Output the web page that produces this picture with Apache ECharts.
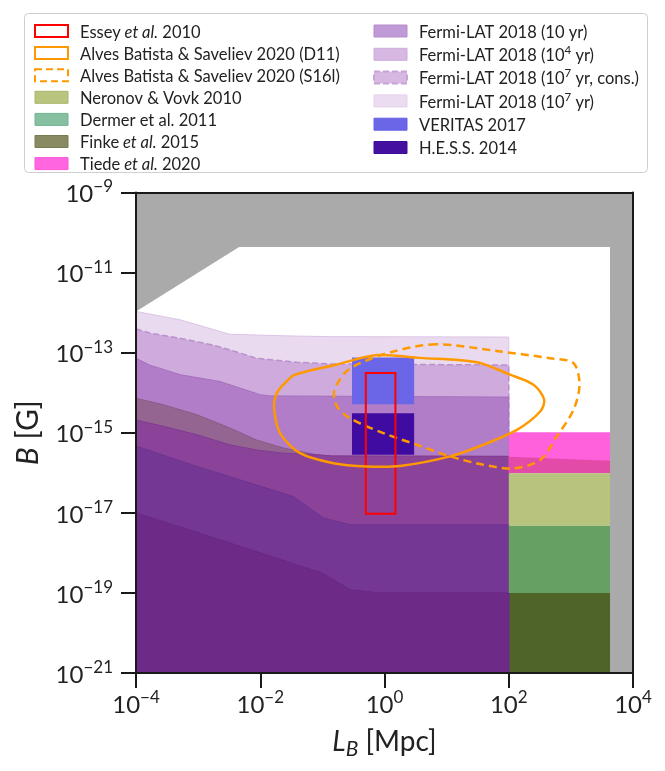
<!DOCTYPE html>
<html><head><meta charset="utf-8">
<script src="https://cdn.jsdelivr.net/npm/echarts@6/dist/echarts.min.js"></script>
<style>html,body{margin:0;padding:0;background:#fff}#c{width:665px;height:771px}</style>
</head><body><div id="c"></div>
<script>
// ===== DATA: every vertex is [log10(L_B / Mpc), log10(B / G)] =====
const xTickExponents = [-4, -2, 0, 2, 4];
const yTickExponents = [-21, -19, -17, -15, -13, -11, -9];
const rangeLogL = [-4, 4];
const rangeLogB = [-21, -9];

const excludedRegion = [[-4, -21], [-4, -9], [4, -9], [4, -21]];
const allowedRegion = [[-4, -11.97], [-2.34, -10.36], [3.63, -10.36], [3.63, -21], [-4, -21]];

// Fermi-LAT 2018 / Finke lower limits (upper boundaries of excluded bands), L from 1e-4 to 1e2 Mpc
const fermi1e7Top = [[-4, -11.97], [-3.29, -12.18], [-2.65, -12.47], [-2.49, -12.54], [-1.6, -12.58], [-0.88, -12.6], [2, -12.61]];
const fermi1e7ConsTop = [[-4, -12.41], [-3.78, -12.51], [-3.29, -12.64], [-2.76, -12.81], [-2.49, -12.93], [-2.06, -13.14], [-1.41, -13.24], [-0.88, -13.28], [2, -13.31]];
const fermi1e4Top = [[-4, -13.14], [-3.78, -13.31], [-3.29, -13.55], [-2.65, -13.72], [-2.0, -14.05], [-1.84, -14.08], [2, -14.11]];
const finkeTop = [[-4, -14.14], [-3.56, -14.3], [-3.02, -14.55], [-2.49, -14.88], [-2.06, -15.18], [-1.63, -15.38], [-1.09, -15.55], [-0.85, -15.58], [2, -15.59]];
const fermi10Top = [[-4, -14.68], [-3.56, -14.84], [-3.02, -15.05], [-2.49, -15.3], [-2.06, -15.43], [-1.63, -15.51], [-1.09, -15.55], [-0.85, -15.58], [2, -15.59]];
const overlapBand1Top = [[-4, -15.33], [-3.02, -15.84], [-1.47, -16.59], [-0.98, -17.13], [-0.55, -17.3], [2, -17.3]];
const overlapBand2Top = [[-4, -17.0], [-2.49, -17.75], [-1.01, -18.5], [-0.55, -18.92], [-0.07, -19.0], [2, -19.0]];

// Constraints at large coherence length (L from 1e2 to ~4e3 Mpc)
const rightLRange = [2, 3.63];
const tiedeB = [-16.01, -14.99];
const tiedeOverlapTop = [[2, -15.6], [3.63, -15.7]];
const neronovB = [-17.32, -16.01];
const dermerB = [-19.0, -17.32];
const finkeRightB = [-21, -19.0];

// Boxes
const veritasL = [-0.523, 0.477];
const veritasB = [-14.29, -13.12];
const hessL = [-0.523, 0.477];
const hessB = [-15.55, -14.51];
const esseyL = [-0.301, 0.176];
const esseyB = [-17.02, -13.51];

// Alves Batista & Saveliev 2020 contours
const d11Contour = [[-1.778, -14.39], [-1.746, -14.05], [-1.628, -13.8], [-1.44, -13.55], [-0.779, -13.3], [-0.124, -13.06], [0.573, -13.13], [1.486, -13.24], [2.02, -13.55], [2.398, -13.8], [2.57, -14.17], [2.506, -14.47], [2.13, -14.93], [1.593, -15.3], [1.056, -15.59], [0.251, -15.83], [-0.285, -15.84], [-0.823, -15.76], [-1.359, -15.51], [-1.681, -15.01]];
const s16lContour = [[0.831, -12.79], [0.143, -12.97], [-0.393, -13.26], [-0.634, -13.5], [-0.812, -13.97], [-0.763, -14.35], [-0.554, -14.64], [-0.018, -15.01], [0.52, -15.3], [1.056, -15.59], [1.593, -15.8], [2.076, -15.89], [2.506, -15.68], [2.775, -15.09], [3.042, -14.43], [3.139, -13.8], [3.042, -13.26], [2.667, -13.14], [1.862, -12.97]];

const legendLeftNames = ['Essey et al. 2010', 'Alves Batista & Saveliev 2020 (D11)', 'Alves Batista & Saveliev 2020 (S16l)', 'Neronov & Vovk 2010', 'Dermer et al. 2011', 'Finke et al. 2015', 'Tiede et al. 2020'];
const legendRightNames = ['Fermi-LAT 2018 (10 yr)', 'Fermi-LAT 2018 (10^4 yr)', 'Fermi-LAT 2018 (10^7 yr, cons.)', 'Fermi-LAT 2018 (10^7 yr)', 'VERITAS 2017', 'H.E.S.S. 2014'];

// ===== helpers =====
function band(top, bottomB) {
  return top.concat([[top[top.length - 1][0], bottomB], [top[0][0], bottomB]]);
}
function rect(Lr, Br) {
  return [[Lr[0], Br[0]], [Lr[1], Br[0]], [Lr[1], Br[1]], [Lr[0], Br[1]]];
}

const FONT = 'Lato';
const TXT = '#222';

function polySeries(name, shapes) {
  const allPts = [];
  shapes.forEach(s => s.pts.forEach(p => allPts.push(p)));
  return {
    type: 'custom', name: name, coordinateSystem: 'cartesian2d', silent: true,
    animation: false,
    data: allPts,
    renderItem: function (params, api) {
      if (params.dataIndex !== 0) return null;
      return {
        type: 'group',
        children: shapes.map(s => ({
          type: s.closed === false ? 'polyline' : 'polygon',
          shape: { points: s.pts.map(p => api.coord(p)), smooth: s.smooth || 0 },
          style: {
            fill: s.closed === false ? null : (s.fill || null),
            stroke: s.stroke || null,
            lineWidth: s.lineWidth || 0,
            lineDash: s.dash || null
          }
        }))
      };
    }
  };
}

const series = [
  polySeries('excluded', [{ pts: excludedRegion, fill: '#aaaaaa' }]),
  polySeries('allowed', [{ pts: allowedRegion, fill: '#ffffff' }]),
  polySeries('Fermi-LAT 2018 (10^7 yr)', [{ pts: band(fermi1e7Top, -21), fill: '#eadaf0', stroke: '#dcc4e6', lineWidth: 1 }]),
  polySeries('Fermi-LAT 2018 (10^7 yr, cons.)', [
    { pts: band(fermi1e7ConsTop, -21), fill: '#cfaadc' },
    { pts: fermi1e7ConsTop.concat([[2, -21]]), closed: false, stroke: '#b991cc', lineWidth: 1.5, dash: [6, 3] }
  ]),
  polySeries('Fermi-LAT 2018 (10^4 yr)', [{ pts: band(fermi1e4Top, -21), fill: '#b27dc8', stroke: '#a56fbd', lineWidth: 1 }]),
  polySeries('Finke et al. 2015', [
    { pts: band(finkeTop, -21), fill: '#946591', stroke: '#8a5a88', lineWidth: 1 },
    { pts: rect(rightLRange, finkeRightB), fill: '#4e6428' }
  ]),
  polySeries('Fermi-LAT 2018 (10 yr)', [{ pts: band(fermi10Top, -21), fill: '#8a4399', stroke: '#813b92', lineWidth: 1 }]),
  polySeries('overlap1', [{ pts: band(overlapBand1Top, -21), fill: '#743894', stroke: '#6e3390', lineWidth: 1 }]),
  polySeries('overlap2', [{ pts: band(overlapBand2Top, -21), fill: '#6d2a86', stroke: '#6a2884', lineWidth: 1 }]),
  polySeries('Tiede et al. 2020', [
    { pts: rect(rightLRange, tiedeB), fill: '#ff60dc' },
    { pts: tiedeOverlapTop.concat([[3.63, tiedeB[0]], [2, tiedeB[0]]]), fill: '#e24ba8' }
  ]),
  polySeries('Neronov & Vovk 2010', [{ pts: rect(rightLRange, neronovB), fill: '#b8c47e' }]),
  polySeries('Dermer et al. 2011', [{ pts: rect(rightLRange, dermerB), fill: '#66a062' }]),
  polySeries('VERITAS 2017', [{ pts: rect(veritasL, veritasB), fill: '#6b66e8' }]),
  polySeries('H.E.S.S. 2014', [{ pts: rect(hessL, hessB), fill: '#400ba0' }]),
  polySeries('Alves Batista & Saveliev 2020 (S16l)', [{ pts: s16lContour, stroke: '#ff9900', lineWidth: 2.5, dash: [8, 5], smooth: 0.3 }]),
  polySeries('Essey et al. 2010', [{ pts: rect(esseyL, esseyB), stroke: '#ff0000', lineWidth: 2 }]),
  polySeries('Alves Batista & Saveliev 2020 (D11)', [{ pts: d11Contour, stroke: '#ff9900', lineWidth: 2.5, smooth: 0.3 }])
];

const legendIconStyle = {
  'Essey et al. 2010': { color: '#ffffff', borderColor: '#ff0000', borderWidth: 2 },
  'Alves Batista & Saveliev 2020 (D11)': { color: '#ffffff', borderColor: '#ff9900', borderWidth: 2 },
  'Alves Batista & Saveliev 2020 (S16l)': { color: '#ffffff', borderColor: '#ff9900', borderWidth: 2, borderType: [7, 4] },
  'Neronov & Vovk 2010': { color: '#b9c47f', borderColor: '#a8b66a', borderWidth: 1 },
  'Dermer et al. 2011': { color: '#86c0a0', borderColor: '#74b390', borderWidth: 1 },
  'Finke et al. 2015': { color: '#8a8a62', borderColor: '#7b7b52', borderWidth: 1 },
  'Tiede et al. 2020': { color: '#ff66e0', borderColor: '#ff55da', borderWidth: 1 },
  'Fermi-LAT 2018 (10 yr)': { color: '#c09ad6', borderColor: '#b68ccd', borderWidth: 1 },
  'Fermi-LAT 2018 (10^4 yr)': { color: '#d6b8e3', borderColor: '#ccaadc', borderWidth: 1 },
  'Fermi-LAT 2018 (10^7 yr, cons.)': { color: '#d6b8e3', borderColor: '#c7a3da', borderWidth: 2, borderType: [6, 3] },
  'Fermi-LAT 2018 (10^7 yr)': { color: '#ecdcf2', borderColor: '#e4d0ec', borderWidth: 1 },
  'VERITAS 2017': { color: '#6b66e8', borderColor: '#6560e4', borderWidth: 1 },
  'H.E.S.S. 2014': { color: '#4410a0', borderColor: '#3e0c99', borderWidth: 1 }
};

const LEG_FS = 16.5;
function legendFormatter(name) {
  if (name === 'Dermer et al. 2011') return '{n|' + name + '}';
  let s = name.replace(/ et al\. /, '}{i| et al.}{n| ');
  s = s.replace(/10\^(\d)/, '10}{s|$1}{n|');
  return '{n|' + s + '}';
}
const legendRichStyles = {
  n: { fontFamily: FONT, fontSize: LEG_FS, color: TXT, lineHeight: 20, verticalAlign: 'bottom' },
  i: { fontFamily: FONT, fontSize: LEG_FS, fontStyle: 'italic', color: TXT, lineHeight: 20, verticalAlign: 'bottom' },
  s: { fontFamily: FONT, fontSize: 11.5, color: TXT, lineHeight: 12, verticalAlign: 'top' }
};

function expLabel(v) {
  const s = v < 0 ? '\u2212' + (-v) : String(v);
  return '{b|10}{s|' + s + '}';
}
const tickRich = {
  b: { fontFamily: FONT, fontSize: 24, color: TXT, lineHeight: 28, verticalAlign: 'bottom' },
  s: { fontFamily: FONT, fontSize: 17, color: TXT, lineHeight: 18, verticalAlign: 'top' }
};

const axisLineStyle = { color: '#1a1a1a', width: 2 };

const option = {
  backgroundColor: '#ffffff',
  animation: false,
  grid: { left: 136, right: 32, top: 192.5, bottom: 98, containLabel: false },
  graphic: [{
    type: 'rect', z: 0,
    shape: { x: 24.5, y: 13.5, width: 623, height: 159, r: 4 },
    style: { fill: '#ffffff', stroke: '#cfcfcf', lineWidth: 1 }
  }],
  legend: [
    {
      orient: 'vertical', left: 29, top: 16, itemWidth: 33, itemHeight: 12, itemGap: 2.1,
      selectedMode: false, icon: 'rect', z: 5,
      data: legendLeftNames.map(n => ({ name: n, icon: 'rect', itemStyle: legendIconStyle[n] })),
      formatter: legendFormatter,
      textStyle: { fontFamily: FONT, fontSize: LEG_FS, color: TXT, lineHeight: 20, padding: [0, 0, 0, 7], rich: legendRichStyles }
    },
    {
      orient: 'vertical', left: 368, top: 16, itemWidth: 33, itemHeight: 12, itemGap: 3.3,
      selectedMode: false, icon: 'rect', z: 5,
      data: legendRightNames.map(n => ({ name: n, icon: 'rect', itemStyle: legendIconStyle[n] })),
      formatter: legendFormatter,
      textStyle: { fontFamily: FONT, fontSize: LEG_FS, color: TXT, lineHeight: 20, padding: [0, 0, 0, 7], rich: legendRichStyles }
    }
  ],
  xAxis: [
    {
      type: 'value', position: 'bottom', min: rangeLogL[0], max: rangeLogL[1], interval: 2, z: 10,
      axisLine: { show: true, onZero: false, lineStyle: axisLineStyle },
      axisTick: { show: true, length: 15, lineStyle: axisLineStyle },
      axisLabel: {
        margin: 16, color: TXT,
        formatter: v => xTickExponents.indexOf(v) >= 0 ? expLabel(v) : '',
        rich: tickRich
      },
      splitLine: { show: false },
      name: '{i|L}{sub|B}{n| [Mpc]}', nameLocation: 'middle', nameGap: 55,
      nameTextStyle: {
        fontFamily: FONT, fontSize: 28, color: TXT, lineHeight: 32, verticalAlign: 'top',
        rich: {
          i: { fontFamily: FONT, fontSize: 28, fontStyle: 'italic', color: TXT, lineHeight: 32, verticalAlign: 'top' },
          n: { fontFamily: FONT, fontSize: 28, color: TXT, lineHeight: 32, verticalAlign: 'top' },
          sub: { fontFamily: FONT, fontSize: 21, fontStyle: 'italic', color: TXT, lineHeight: 32, verticalAlign: 'bottom' }
        }
      }
    },
    {
      type: 'value', position: 'top', min: rangeLogL[0], max: rangeLogL[1], interval: 2, z: 10,
      axisLine: { show: true, onZero: false, lineStyle: axisLineStyle },
      axisTick: { show: false }, axisLabel: { show: false }, splitLine: { show: false }
    }
  ],
  yAxis: [
    {
      type: 'value', position: 'left', min: rangeLogB[0], max: rangeLogB[1], interval: 2, z: 10,
      axisLine: { show: true, onZero: false, lineStyle: axisLineStyle },
      axisTick: { show: true, length: 15, lineStyle: axisLineStyle },
      axisLabel: {
        margin: 23, color: TXT,
        formatter: v => yTickExponents.indexOf(v) >= 0 ? expLabel(v) : '',
        rich: tickRich
      },
      splitLine: { show: false },
      name: '{i|B}{n| [G]}', nameLocation: 'middle', nameGap: 88,
      nameTextStyle: {
        fontFamily: FONT, fontSize: 30, color: TXT, lineHeight: 32,
        rich: {
          i: { fontFamily: FONT, fontSize: 30, fontStyle: 'italic', color: TXT, lineHeight: 32 },
          n: { fontFamily: FONT, fontSize: 30, color: TXT, lineHeight: 32 }
        }
      }
    },
    {
      type: 'value', position: 'right', min: rangeLogB[0], max: rangeLogB[1], interval: 2, z: 10,
      axisLine: { show: true, onZero: false, lineStyle: axisLineStyle },
      axisTick: { show: false }, axisLabel: { show: false }, splitLine: { show: false }
    }
  ],
  series: series
};

const chart = echarts.init(document.getElementById('c'), null, { renderer: 'canvas' });
chart.setOption(option);
</script>
</body></html>
